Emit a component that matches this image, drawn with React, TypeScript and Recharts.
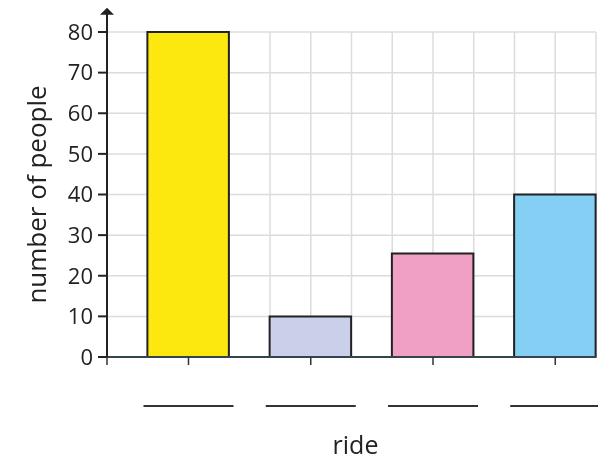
import { Bar, BarChart, CartesianGrid, Cell, ReferenceLine, XAxis, YAxis } from 'recharts';

const rides = ['ride A', 'ride B', 'ride C', 'ride D'];
const people = [80, 10, 25.5, 40];
const barColors = ['#fce80f', '#cacfea', '#f09fc5', '#84cff4'];
const yTicks = [0, 10, 20, 30, 40, 50, 60, 70, 80];
const gridTicks = [0, 1, 2, 3, 4, 5, 6, 7, 8, 9, 10, 11, 12];

// each ride sits in a 3-unit slot of the grid, bar two units wide
const data = rides.map((name, i) => ({ name, slot: i * 3 + 2, value: people[i] }));
const xTicks = [0, ...data.map((d) => d.slot)];

const INK = '#222';

function RideTick(props: any) {
    const { x, y, payload } = props;
    if (payload.value === 0) return null;
    return <line x1={x - 45} x2={x + 45} y1={y + 39} y2={y + 39} stroke="#333" strokeWidth={2} />;
}

function Arrow(props: any) {
    const { x1, y1, x2, y2 } = props;
    const top = Math.min(y1, y2);
    const bottom = Math.max(y1, y2);
    return (
        <g>
            <line x1={x1} x2={x2} y1={bottom} y2={top + 4} stroke={INK} strokeWidth={2} />
            <polygon points={`${x1 - 7},${top + 7} ${x1 + 7},${top + 7} ${x1},${top}`} fill={INK} />
        </g>
    );
}

export default function App() {
    return (
        <div style={{ position: 'fixed', left: 0, top: 0, fontFamily: '"Open Sans", sans-serif' }}>
            <BarChart width={598} height={459} data={data} margin={{ top: 32, right: 2, left: 0, bottom: 0 }}>
                <XAxis xAxisId="grid" type="number" dataKey="slot" domain={[0, 12]} ticks={gridTicks} height={0} hide />
                <CartesianGrid xAxisId="grid" stroke="#dcdcdc" strokeWidth={1.5} />
                <XAxis
                    xAxisId="main"
                    type="number"
                    dataKey="slot"
                    domain={[0, 12]}
                    ticks={xTicks}
                    height={102}
                    axisLine={{ stroke: '#34444e', strokeWidth: 2 }}
                    tickLine={{ stroke: '#333', strokeWidth: 1.5 }}
                    tickSize={8}
                    tick={<RideTick />}
                    label={{
                        content: ({ viewBox }: any) => (
                            <text x={viewBox.x + viewBox.width / 2 + 4} y={viewBox.y + 97} textAnchor="middle" fontSize={25} fill={INK}>
                                ride
                            </text>
                        ),
                    }}
                />
                <YAxis
                    type="number"
                    domain={[0, 80]}
                    ticks={yTicks}
                    width={107}
                    axisLine={{ stroke: INK, strokeWidth: 2 }}
                    tickLine={{ stroke: INK, strokeWidth: 2 }}
                    tickSize={9}
                    tickMargin={5}
                    tick={{ fontSize: 22, fill: INK }}
                    label={{
                        content: ({ viewBox }: any) => (
                            <text
                                x={viewBox.x + 36}
                                y={viewBox.y + viewBox.height / 2}
                                transform={`rotate(-90 ${viewBox.x + 36} ${viewBox.y + viewBox.height / 2})`}
                                textAnchor="middle"
                                dominantBaseline="central"
                                fontSize={26}
                                fill={INK}
                            >
                                number of people
                            </text>
                        ),
                    }}
                />
                <Bar xAxisId="main" dataKey="value" barSize={81.5} stroke={INK} strokeWidth={2} isAnimationActive={false}>
                    {data.map((d, i) => (
                        <Cell key={d.name} fill={barColors[i]} />
                    ))}
                </Bar>
                <ReferenceLine
                    xAxisId="main"
                    segment={[{ x: 0, y: 78 }, { x: 0, y: 86 }]}
                    ifOverflow="visible"
                    shape={<Arrow />}
                />
            </BarChart>
        </div>
    );
}
